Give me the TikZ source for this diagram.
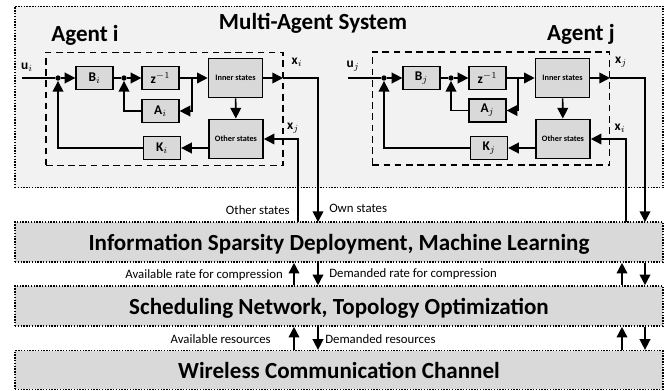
\documentclass[tikz,border=0pt]{standalone}
\usepackage{fontspec}
\setmainfont{Carlito}
\usetikzlibrary{arrows.meta}
\definecolor{syslight}{HTML}{F2F2F2}
\definecolor{bargray}{HTML}{D9D9D9}
\tikzset{
  sysbox/.style={draw, dash pattern=on 1.1pt off 1pt, line width=1.2pt, fill=syslight, minimum width=486pt, minimum height=136pt, inner sep=0pt},
  agentbox/.style={draw, dash pattern=on 5pt off 3.4pt, line width=1.2pt, minimum width=178pt, minimum height=85pt, inner sep=0pt},
  bar/.style={draw, dash pattern=on 1.1pt off 1pt, line width=1.2pt, fill=bargray, minimum width=486pt, inner sep=0pt, text depth=0pt, font=\fontsize{17.3}{17.3}\selectfont\bfseries},
  blockbox/.style={draw, line width=1.2pt, fill=bargray, minimum width=27.5pt, minimum height=17pt, inner sep=0pt, font=\fontsize{10}{10}\selectfont},
  statebox/.style={draw, line width=1.2pt, fill=bargray, minimum width=40.5pt, minimum height=29.5pt, inner sep=0pt, font=\fontsize{6.2}{6.2}\selectfont\bfseries},
  junc/.style={circle, fill, inner sep=0pt, minimum size=4pt},
  sig/.style={line width=1.2pt},
  sigtip/.style={line width=1.2pt, -{Triangle[length=8pt,width=8pt]}},
  title/.style={font=\fontsize{17.3}{17.3}\selectfont\bfseries, inner sep=0pt},
  note/.style={font=\fontsize{9.6}{9.6}\selectfont, inner sep=0pt},
  sym/.style={font=\fontsize{10}{10}\selectfont, inner sep=0pt}
}
\begin{document}
\begin{tikzpicture}[x=0.75pt,y=-0.75pt]
  \useasboundingbox (0,0) rectangle (669,390);
  \node[sysbox] (sys) at (339,97) {};
  \node[bar, minimum height=30pt] (infobar) at (339,242) {Information Sparsity Deployment, Machine Learning};
  \node[bar, minimum height=30pt] (schedbar) at (339,306) {Scheduling Network, Topology Optimization};
  \node[bar, minimum height=29pt] (wirelessbar) at (339,370) {Wireless Communication Channel};
  \node[title] (systitle) at (313,23) {Multi-Agent System};
  \node[title] (titlei) at (85,35) {Agent i};
  \node[title] (titlej) at (581,34) {Agent j};
  \node[agentbox] (agenti) at (164.5,109) {};
  \node[agentbox] (agentj) at (491,108.5) {};
  % agent i
  \node[junc] (ji) at (58,78) {};
  \node[blockbox] (Bi) at (94.5,78) {$\mathbf{B}_i$};
  \node[junc] (ki) at (124,78) {};
  \node[blockbox] (Zi) at (160.5,78) {$\mathbf{z}^{-1}$};
  \node[statebox] (Ii) at (235.5,78) {Inner states};
  \node[blockbox] (Ai) at (160.5,111) {$\mathbf{A}_i$};
  \node[statebox] (Oi) at (236,139) {Other states};
  \node[blockbox] (Ki) at (162,148) {$\mathbf{K}_i$};
  \coordinate (ui) at (22,78);
  \coordinate (portxi) at (283,78);
  \coordinate (bendi) at (192,78);
  \coordinate (owni) at (318,222);
  \coordinate (otheri) at (298,222);
  \node[sym] (labui) at (27,67) {$\mathbf{u}_i$};
  \node[sym] (labxi) at (297,62) {$\mathbf{x}_i$};
  \node[sym] (labxji) at (293,128) {$\mathbf{x}_j$};
  \begin{scope}[sig]
    \draw (ui) -- (ji);
    \draw[sigtip] (ji) -- (Bi);
    \draw (Bi) -- (ki);
    \draw[sigtip] (ki) -- (Zi);
    \draw[sigtip] (Zi) -- (Ii);
    \draw[sigtip] (bendi) |- (Ai);
    \draw[sigtip] (Ai) -| (ki);
    \draw[sigtip] (Ii) -- (portxi);
    \draw[sigtip] (portxi) -| (owni);
    \draw[sigtip] (Ii) -- (Oi);
    \draw[sigtip] (otheri) |- (Oi);
    \draw[sigtip] (Oi.west |- Ki) -- (Ki);
    \draw[sigtip] (Ki) -| (ji);
  \end{scope}
  % agent j
  \node[junc] (jj) at (384,78) {};
  \node[blockbox] (Bj) at (421.5,78) {$\mathbf{B}_j$};
  \node[junc] (kj) at (451,78) {};
  \node[blockbox] (Zj) at (487.5,78) {$\mathbf{z}^{-1}$};
  \node[statebox] (Ij) at (562.5,78) {Inner states};
  \node[blockbox] (Aj) at (487.5,110.5) {$\mathbf{A}_j$};
  \node[statebox] (Oj) at (563,139) {Other states};
  \node[blockbox] (Kj) at (489,148) {$\mathbf{K}_j$};
  \coordinate (uj) at (348,78);
  \coordinate (portxj) at (610,78);
  \coordinate (bendj) at (518,78);
  \coordinate (ownj) at (645,222);
  \coordinate (otherj) at (626,222);
  \node[sym] (labuj) at (353,66) {$\mathbf{u}_j$};
  \node[sym] (labxj) at (621,62) {$\mathbf{x}_j$};
  \node[sym] (labxij) at (620,128) {$\mathbf{x}_i$};
  \begin{scope}[sig]
    \draw (uj) -- (jj);
    \draw[sigtip] (jj) -- (Bj);
    \draw (Bj) -- (kj);
    \draw[sigtip] (kj) -- (Zj);
    \draw[sigtip] (Zj) -- (Ij);
    \draw[sigtip] (bendj) |- (Aj);
    \draw[sigtip] (Aj) -| (kj);
    \draw[sigtip] (Ij) -- (portxj);
    \draw[sigtip] (portxj) -| (ownj);
    \draw[sigtip] (Ij) -- (Oj);
    \draw[sigtip] (otherj) |- (Oj);
    \draw[sigtip] (Oj.west |- Kj) -- (Kj);
    \draw[sigtip] (Kj) -| (jj);
  \end{scope}
  % between the bars
  \coordinate (upi) at (294,0);
  \coordinate (downi) at (318,0);
  \coordinate (upj) at (622,0);
  \coordinate (downj) at (645,0);
  \begin{scope}[sigtip]
    \draw (schedbar.north -| upi) -- (infobar.south -| upi);
    \draw (infobar.south -| downi) -- (schedbar.north -| downi);
    \draw (wirelessbar.north -| upi) -- (schedbar.south -| upi);
    \draw (schedbar.south -| downi) -- (wirelessbar.north -| downi);
    \draw (schedbar.north -| upj) -- (infobar.south -| upj);
    \draw (infobar.south -| downj) -- (schedbar.north -| downj);
    \draw (wirelessbar.north -| upj) -- (schedbar.south -| upj);
    \draw (schedbar.south -| downj) -- (wirelessbar.north -| downj);
  \end{scope}
  \node[note, anchor=east] (othernote) at (290,210) {Other states};
  \node[note, anchor=west] (ownnote) at (329,208) {Own states};
  \node[note, anchor=east] (ratenote) at (283,275) {Available rate for compression};
  \node[note, anchor=west] (demandnote) at (329,274) {Demanded rate for compression};
  \node[note, anchor=east] (resnote) at (271,339) {Available resources};
  \node[note, anchor=west] (dresnote) at (325,339) {Demanded resources};
\end{tikzpicture}
\end{document}
